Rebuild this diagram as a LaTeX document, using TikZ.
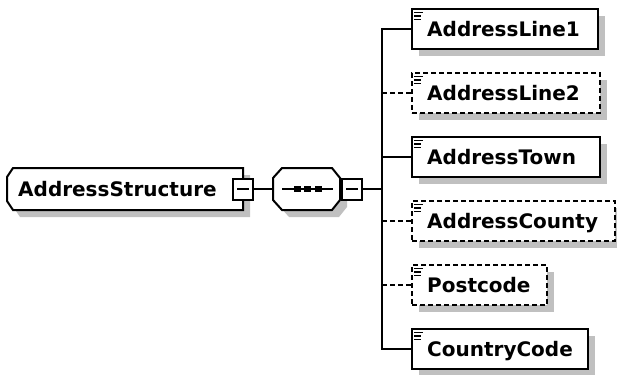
\documentclass[tikz,border=0pt]{standalone}
\usepackage{fontspec}
\setmainfont{DejaVu Sans}
\usetikzlibrary{shadows}
\definecolor{shadowgray}{RGB}{192,192,192}
\newcommand\xsdicon[1]{%
  \draw[iconline] ([shift={(3,4.5)}]#1.north west) -- ++(9,0);
  \draw[iconline] ([shift={(3,8)}]#1.north west) -- ++(7,0);
  \draw[iconline] ([shift={(3,11.5)}]#1.north west) -- ++(7,0);
}
\begin{document}
\begin{tikzpicture}[x=1pt,y=-1pt,
  outline/.style={draw=black, line width=2pt, fill=white},
  shad/.style={drop shadow={shadow xshift=7pt, shadow yshift=-7pt, fill=shadowgray, opacity=1}},
  elem/.style={outline, shad, rectangle, inner sep=0pt, minimum height=40pt},
  optelem/.style={elem, dash pattern=on 5pt off 3pt},
  conn/.style={line width=1.8pt},
  optconn/.style={conn, dash pattern=on 5pt off 3pt},
  lbl/.style={font=\bfseries\fontsize{20}{24}\selectfont, inner sep=0pt, anchor=base west},
  minusbox/.style={outline, rectangle, inner sep=0pt, minimum width=20pt, minimum height=21pt},
  iconline/.style={line width=1.5pt},
]
\useasboundingbox (0,0) rectangle (617,374);

% root element
\draw[outline, shad] (13,168) -- (243,168) -- (243,210) -- (13,210) -- (7,201) -- (7,177) -- cycle;
\node[lbl] (asmt) at (18,196) {AddressStructure};
\node[minusbox] (asmm) at (243,189) {};
\draw[conn] ([xshift=-6pt]asmm.center) -- ([xshift=6pt]asmm.center);

% sequence compositor
\draw[outline, shad] (282,168) -- (332,168) -- (340,178) -- (340,200) -- (332,210) -- (282,210) -- (273,200) -- (273,178) -- cycle;
\coordinate (seqw) at (273,189);
\coordinate (seqil) at (282,189);
\coordinate (seqir) at (333,189);
\draw[conn] (seqil) -- (seqir);
\fill (293.5,186) rectangle ++(7,6);
\fill (304,186) rectangle ++(7,6);
\fill (314.5,186) rectangle ++(7,6);
\node[minusbox] (seqm) at (352,189) {};
\draw[conn] ([xshift=-6pt]seqm.center) -- ([xshift=6pt]seqm.center);

\coordinate (j) at (382,189);
\draw[conn] (asmm.east) -- (seqw);
\draw[conn] (seqm.east) -- (j);

% child elements
\node[elem, minimum width=186pt] (al1) at (505,29) {};
\node[optelem, minimum width=188pt] (al2) at (506,93) {};
\node[elem, minimum width=188pt] (at) at (506,157) {};
\node[optelem, minimum width=203pt] (ac) at (513.5,221) {};
\node[optelem, minimum width=135pt] (pc) at (479.5,285) {};
\node[elem, minimum width=176pt] (cc) at (500,349) {};

\xsdicon{al1}
\xsdicon{al2}
\xsdicon{at}
\xsdicon{ac}
\xsdicon{pc}
\xsdicon{cc}

\node[lbl] (al1t) at (427,36.5) {AddressLine1};
\node[lbl] (al2t) at (427,100.5) {AddressLine2};
\node[lbl] (att) at (427,164.5) {AddressTown};
\node[lbl] (act) at (427,228.5) {AddressCounty};
\node[lbl] (pct) at (427,292.5) {Postcode};
\node[lbl] (cct) at (427,356.5) {CountryCode};

% connectors
\draw[conn] (al1.west) -| (j) |- (cc.west);
\draw[conn] (j) |- (at.west);
\draw[optconn] (al2.west -| j) -- (al2.west);
\draw[optconn] (ac.west -| j) -- (ac.west);
\draw[optconn] (pc.west -| j) -- (pc.west);
\end{tikzpicture}
\end{document}
